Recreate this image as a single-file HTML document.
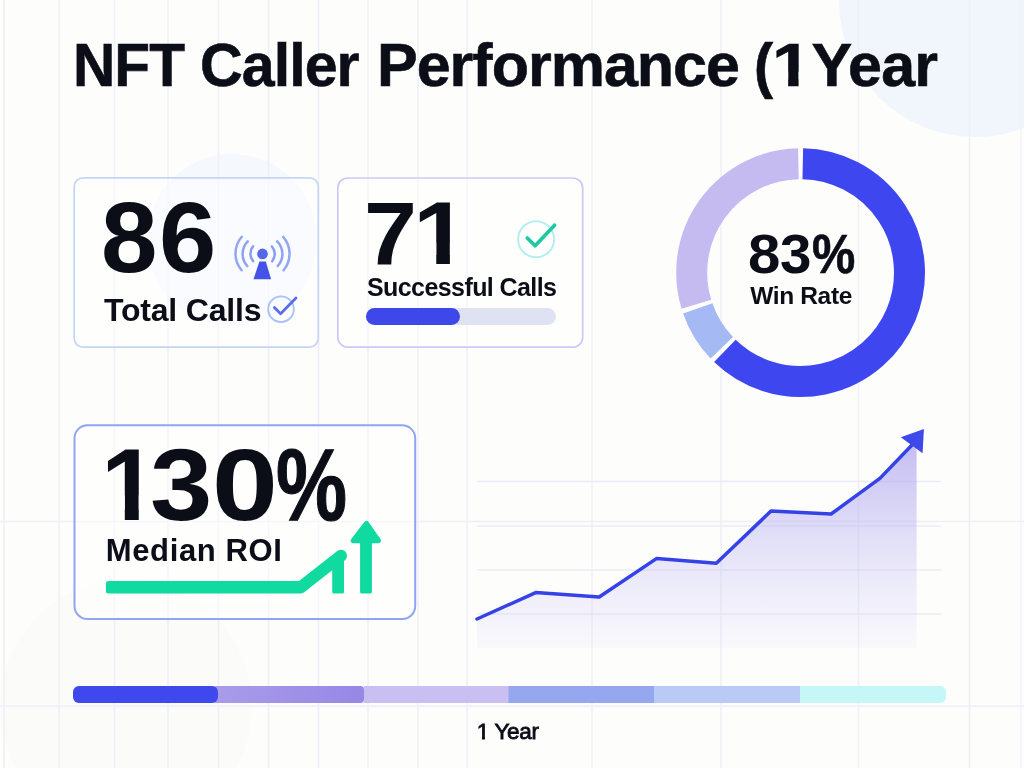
<!DOCTYPE html>
<html lang="en">
<head>
<meta charset="utf-8">
<title>NFT Caller Performance (1 Year)</title>
<style>
  html,body{margin:0;padding:0;}
  body{width:1024px;height:768px;overflow:hidden;background:#fdfdfc;font-family:"Liberation Sans",sans-serif;color:#0b0d17;}
  .page{position:relative;width:1024px;height:768px;overflow:hidden;background:#fdfdfc;}
  .blob{position:absolute;border-radius:50%;}
  .card{position:absolute;box-sizing:border-box;border-radius:9px;}
  .t{position:absolute;white-space:nowrap;line-height:1;transform-origin:0 50%;margin:0;font-weight:700;}
  .num{left:0;width:1024px;height:1em;}
  .g{position:absolute;top:0;transform-origin:0 50%;}
  .one{clip-path:polygon(0 0,100% 0,100% 0.6em,0.3705em 0.6em,0.3705em 100%,0.2335em 100%,0.2335em 0.6em,0 0.6em);}
  .one.s{clip-path:polygon(0 0,100% 0,100% 0.6em,0.3756em 0.6em,0.3756em 100%,0.2284em 100%,0.2284em 0.6em,0 0.6em);}
  .oner{display:inline-block;clip-path:polygon(0 0,100% 0,100% 0.6em,0.363em 0.6em,0.363em 100%,0.229em 100%,0.229em 0.6em,0 0.6em);}
  .w{position:absolute;top:0;transform-origin:0 50%;white-space:nowrap;}
  svg{position:absolute;left:0;top:0;overflow:visible;}
</style>
</head>
<body>
<div class="page">

  <!-- soft background blobs -->
  <div class="blob" style="left:839px;top:-135px;width:272px;height:272px;background:#f1f5fc;"></div>
  <div class="blob" style="left:147px;top:154px;width:170px;height:172px;background:#f5f8fd;"></div>

  <div class="blob" style="left:0px;top:580px;width:252px;height:252px;background:rgba(228,229,236,0.09);"></div>

  <!-- grid -->
  <svg width="1024" height="768" viewBox="0 0 1024 768">
    <g stroke="#eeeff9" stroke-width="1.5">
      <line x1="4" y1="0" x2="4" y2="768"/>
      <line x1="59" y1="0" x2="59" y2="768"/>
      <line x1="114.5" y1="0" x2="114.5" y2="768"/>
      <line x1="168" y1="0" x2="168" y2="768"/>
      <line x1="218.5" y1="0" x2="218.5" y2="768"/>
      <line x1="268.5" y1="0" x2="268.5" y2="768"/>
      <line x1="318.5" y1="0" x2="318.5" y2="768"/>
      <line x1="368" y1="0" x2="368" y2="768"/>
      <line x1="418" y1="0" x2="418" y2="768"/>
      <line x1="467" y1="0" x2="467" y2="768"/>
      <line x1="592" y1="0" x2="592" y2="768"/>
      <line x1="721" y1="0" x2="721" y2="768"/>
      <line x1="858.5" y1="0" x2="858.5" y2="768"/>
      <line x1="969.5" y1="0" x2="969.5" y2="768"/>
      <line x1="1021" y1="0" x2="1021" y2="768" stroke-opacity="0.7"/>
      <line x1="0" y1="521.5" x2="1024" y2="521.5"/>
      <line x1="0" y1="706.3" x2="1024" y2="706.3"/>
    </g>
  </svg>

  <!-- title -->
  <h1 class="t" id="title" style="left:0;top:35px;width:1024px;height:61px;font-size:61px;-webkit-text-stroke:0.6px #0b0d17;">
    <span class="w" style="left:73px;letter-spacing:-1px;transform:scaleX(0.96);">NFT</span>
    <span class="w" style="left:200px;letter-spacing:-1px;transform:scaleX(0.97);">Caller</span>
    <span class="w" style="left:377px;letter-spacing:-1px;">Performance</span>
    <span class="w" style="left:754.2px;transform:scaleX(0.94);">(</span><span class="w one s" style="left:772px;transform:scaleX(1.16);">1</span>
    <span class="w" style="left:811.5px;letter-spacing:-0.8px;">Year</span>
  </h1>

  <!-- card 1 : total calls -->
  <div class="card" id="c1" style="left:74px;top:178px;width:244px;height:169px;background:rgba(255,255,255,0.45);"></div>
  <div class="t num" id="n86" style="top:187.1px;font-size:101px;"><span class="g" style="left:101.0px;transform:scaleX(1.005);">8</span><span class="g" style="left:158.8px;transform:scaleX(1.020);">6</span></div>
  <div class="t" id="ltc" style="left:104px;top:293.5px;font-size:32px;letter-spacing:-0.2px;">Total Calls</div>

  <!-- card 2 : successful calls -->
  <div class="card" id="c2" style="left:338px;top:178px;width:245px;height:169px;background:rgba(255,255,255,0.45);"></div>
  <div class="t num" id="n71" style="top:189.6px;font-size:88.6px;"><span class="g" style="left:363.6px;transform:scaleX(1.075);">7</span><span class="g one" style="left:412.8px;transform:scaleX(1.124);">1</span></div>
  <div class="t" id="lsc" style="left:367px;top:275.4px;font-size:25px;font-weight:700;letter-spacing:-0.58px;">Successful Calls</div>
  <div id="track" style="position:absolute;left:366px;top:308px;width:190px;height:17px;border-radius:9px;background:#dfe2f3;"></div>
  <div id="fill" style="position:absolute;left:366px;top:308px;width:94px;height:17px;border-radius:9px;background:#3d47ea;"></div>

  <!-- donut text -->
  <div class="t num" id="n83" style="top:226.5px;font-size:55.5px;"><span class="g" style="left:747.8px;transform:scaleX(1.048);">8</span><span class="g" style="left:779.5px;transform:scaleX(1.019);">3</span><span class="g" style="left:811.5px;transform:scaleX(0.877);-webkit-text-stroke:0.6px #0b0d17;">%</span></div>
  <div class="t" id="lwr" style="left:750.2px;top:283.5px;font-size:24.5px;font-weight:700;letter-spacing:-0.35px;">Win Rate</div>

  <!-- card 3 : median roi -->
  <div class="card" id="c3" style="left:75px;top:425px;width:340px;height:194px;border-radius:13px;background:rgba(255,255,255,0.45);"></div>
  <div class="t num" id="n130" style="top:434px;font-size:102px;"><span class="g one" style="left:101.2px;transform:scaleX(0.999);">1</span><span class="g" style="left:149.5px;transform:scaleX(1.099);">3</span><span class="g" style="left:211.9px;transform:scaleX(1.161);">0</span><span class="g" style="left:276.1px;transform:scaleX(0.783);-webkit-text-stroke:1.2px #0b0d17;">%</span></div>
  <div class="t" id="lmr" style="left:105.8px;top:534.5px;font-size:31px;font-weight:700;letter-spacing:0.62px;">Median ROI</div>

  <!-- footer label -->
  <div class="t" id="lyr" style="left:476.8px;top:720.9px;font-size:22.5px;font-weight:400;letter-spacing:-0.35px;-webkit-text-stroke:0.85px #0b0d17;"><span class="oner">1</span> Year</div>

  <!-- graphics -->
  <svg width="1024" height="768" viewBox="0 0 1024 768">
    <defs>
      <linearGradient id="area" x1="0" y1="0" x2="0" y2="1">
        <stop offset="0" stop-color="#9f94ea" stop-opacity="0.62"/>
        <stop offset="1" stop-color="#c9c4f5" stop-opacity="0.08"/>
      </linearGradient>
      <linearGradient id="seg2" x1="0" y1="0" x2="1" y2="0">
        <stop offset="0" stop-color="#a99ce9"/>
        <stop offset="1" stop-color="#9787e6"/>
      </linearGradient>
    </defs>

    <!-- card outlines -->
    <g fill="none">
      <rect x="74.2" y="177.8" width="244.1" height="169.4" rx="9" stroke="#c5d5f4" stroke-width="1.7"/>
      <rect x="337.8" y="178" width="244.9" height="169.2" rx="10" stroke="#cfc7f3" stroke-width="1.7"/>
      <rect x="74.5" y="425.3" width="340.7" height="193.7" rx="13" stroke="#8ea5f1" stroke-width="2"/>
    </g>

    <!-- donut -->
    <g fill="none" stroke-width="31">
      <path d="M802.79 163.72A108.9 108.9 0 1 1 724.88 350.87" stroke="#3e46f0"/>
      <path d="M721.80 347.77A108.9 108.9 0 0 1 697.73 308.32" stroke="#a5baf4"/>
      <path d="M696.38 304.17A108.9 108.9 0 0 1 798.41 163.72" stroke="#c5bbf1"/>
    </g>

    <!-- line chart -->
    <g stroke="#ebebf7" stroke-width="1.5">
      <line x1="477" y1="481.5" x2="941" y2="481.5"/>
      <line x1="477" y1="526" x2="941" y2="526"/>
      <line x1="477" y1="570" x2="941" y2="570"/>
      <line x1="477" y1="614" x2="941" y2="614"/>
    </g>
    <path d="M477 619L535.7 592.6L599.2 597L656.8 558.4L716.3 563.3L771 511.1L831.1 514L879.9 478.4L916.6 440.3V648H477Z" fill="url(#area)"/>
    <path d="M477 619L535.7 592.6L599.2 597L656.8 558.4L716.3 563.3L771 511.1L831.1 514L879.9 478.4L912 445" fill="none" stroke="#3542e5" stroke-width="3.5" stroke-linejoin="round" stroke-linecap="round"/>
    <path d="M923.9 428.9L900.8 437.3L922.6 453.2Z" fill="#3f49e9"/>

    <!-- antenna icon -->
    <g fill="none" stroke-linecap="round" stroke-width="2.5">
      <path d="M253.1 246.3A11.5 11.5 0 0 0 253.1 261.1" stroke="#869df0"/>
      <path d="M271.9 246.5A11.5 11.5 0 0 1 272.2 261.3" stroke="#869df0"/>
      <path d="M247.7 241.4A17.9 17.9 0 0 0 247.3 266" stroke="#8da3f0"/>
      <path d="M277.2 241.3A17.9 17.9 0 0 1 277.7 266" stroke="#8da3f0"/>
      <path d="M241.8 236.7A25.8 25.8 0 0 0 241.6 270.3" stroke="#93a8f1"/>
      <path d="M283.2 236.9A25.8 25.8 0 0 1 283.6 270.3" stroke="#93a8f1"/>
    </g>
    <circle cx="262.5" cy="253.9" r="5.3" fill="#5566e8"/>
    <path d="M259.4 261.6h6.4l5.3 17.7h-17.6z" fill="#4353e8"/>

    <!-- check badge (total calls) -->
    <circle cx="281" cy="309.2" r="12.8" fill="none" stroke="#a8c1f6" stroke-width="1.9"/>
    <path d="M274.4 307.5l6.2 6.2l15.4-15.6" fill="none" stroke="#5a6ee8" stroke-width="2.8" stroke-linecap="round" stroke-linejoin="round"/>

    <!-- check badge (successful calls) -->
    <circle cx="536.1" cy="239.2" r="18" fill="none" stroke="#b4eef0" stroke-width="2"/>
    <path d="M527.3 238l7.8 7.8l19.5-20.5" fill="none" stroke="#1ec8a1" stroke-width="3.7" stroke-linecap="round" stroke-linejoin="round"/>

    <!-- green growth arrow -->
    <g fill="#10daa0">
      <rect x="105.9" y="581" width="197" height="12.6" rx="2.5"/>
      <rect x="332.2" y="556" width="11.8" height="37.6" rx="1.6"/>
      <rect x="360.1" y="536" width="11.8" height="57.6" rx="1.6"/>
      <path d="M366.4 523.6L353.3 540.6H378.3Z" stroke="#10daa0" stroke-width="5.2" stroke-linejoin="round"/>
    </g>
    <path d="M300.8 587.3L341 555.8" fill="none" stroke="#10daa0" stroke-width="12" stroke-linecap="round"/>

    <!-- bottom timeline bar -->
    <g>
      <rect x="73" y="686" width="873" height="17" rx="6" fill="#c5f6f8"/>
      <rect x="654" y="686" width="146" height="17" fill="#b9caf6"/>
      <rect x="508" y="686" width="146" height="17" fill="#94a7ef"/>
      <rect x="364" y="686" width="144.5" height="17" fill="#cabff1"/>
      <rect x="212" y="686" width="152" height="17" rx="4" fill="url(#seg2)"/>
      <rect x="73" y="686" width="145" height="17" rx="6" fill="#3f48ec"/>
    </g>
  </svg>

</div>
</body>
</html>
